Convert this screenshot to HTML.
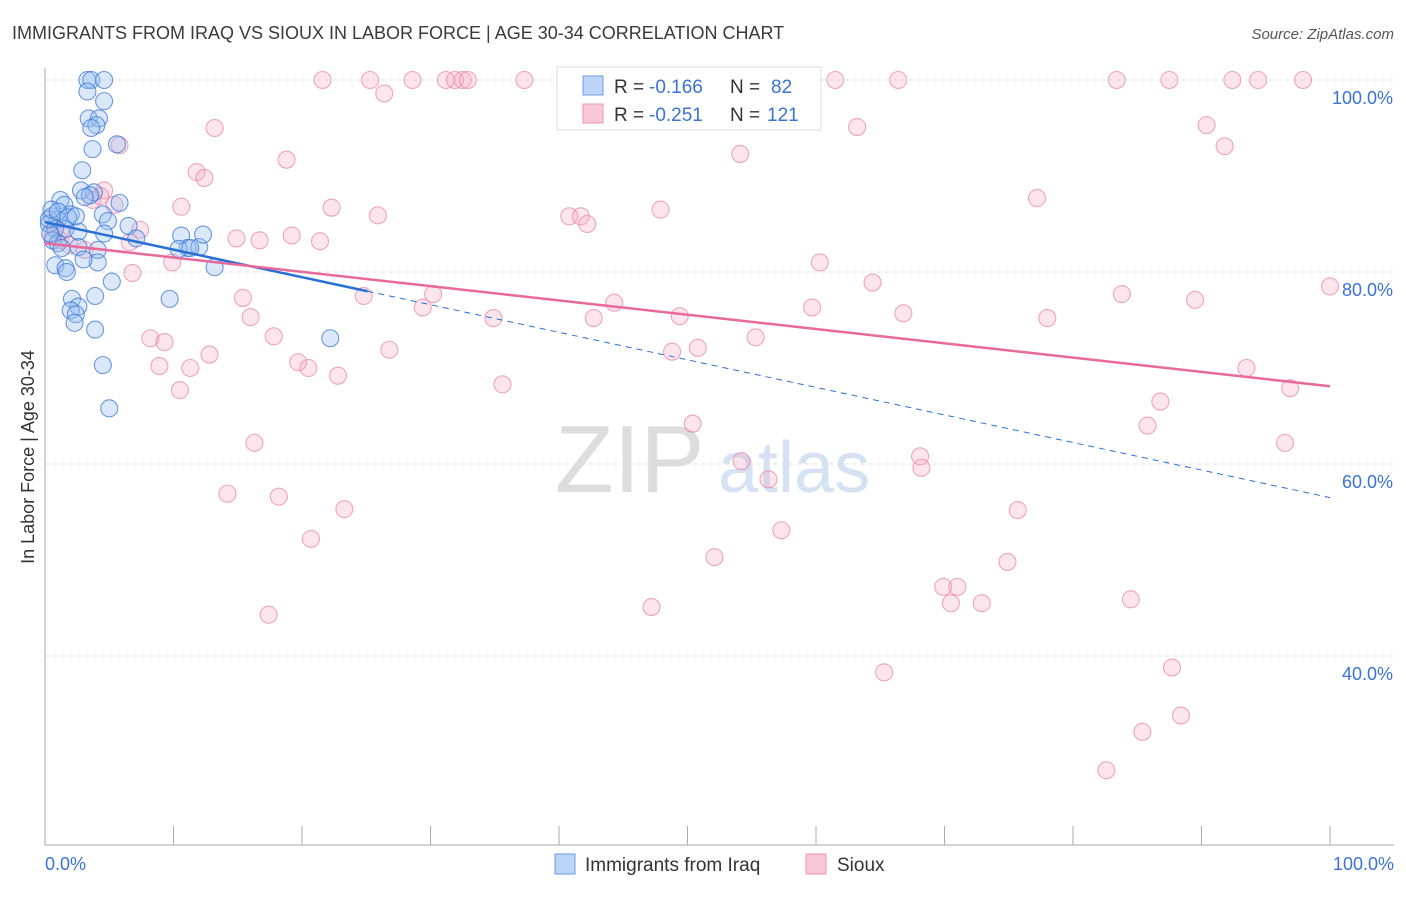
<!DOCTYPE html>
<html><head><meta charset="utf-8"><style>
body{margin:0;background:#fff;font-family:"Liberation Sans",sans-serif;}
svg text{font-family:"Liberation Sans",sans-serif;}
</style></head><body>
<svg id="chart" width="1406" height="892" xmlns="http://www.w3.org/2000/svg">
<text x="12" y="39" font-size="18" fill="#3a3a3a">IMMIGRANTS FROM IRAQ VS SIOUX IN LABOR FORCE | AGE 30-34 CORRELATION CHART</text>
<text x="1394" y="39" font-size="15" fill="#555" text-anchor="end" font-style="italic">Source: ZipAtlas.com</text>
<g><text x="555" y="492" font-size="96" fill="#ddd" font-family="Liberation Serif">ZIP</text><text x="718" y="492" font-size="72" fill="#d4e2f4">atlas</text></g>
<text transform="translate(34,457) rotate(-90)" font-size="18" fill="#333" text-anchor="middle">In Labor Force | Age 30-34</text>
<g id="grid"></g><g id="axes"></g><g id="marks"></g>
<g>
<rect x="557" y="67" width="264" height="63" fill="#fff" stroke="#ddd"/>
<rect x="583" y="76" width="20" height="19" fill="#bcd4f5" stroke="#6a9de6"/>
<rect x="583" y="104" width="20" height="19" fill="#f9c8d8" stroke="#ee95b4"/>
<text x="614" y="93" font-size="19" fill="#333">R =</text><text x="649" y="93" font-size="19" fill="#3a72d8">-0.166</text>
<text x="730" y="93" font-size="19" fill="#333">N =</text><text x="771" y="93" font-size="19" fill="#3a72d8">82</text>
<text x="614" y="121" font-size="19" fill="#333">R =</text><text x="649" y="121" font-size="19" fill="#3a72d8">-0.251</text>
<text x="730" y="121" font-size="19" fill="#333">N =</text><text x="767" y="121" font-size="19" fill="#3a72d8">121</text>
</g>
<g>
<rect x="555" y="854" width="20" height="20" fill="#bcd4f5" stroke="#6a9de6"/>
<text x="585" y="871" font-size="19" fill="#333">Immigrants from Iraq</text>
<rect x="806" y="854" width="20" height="20" fill="#f9c8d8" stroke="#ee95b4"/>
<text x="837" y="871" font-size="19" fill="#333">Sioux</text>
</g>
</svg>
<script>
const yTicks=[40,60,80,100];
const yTickLabels=["40.0%","60.0%","80.0%","100.0%"];
const xTickLabels=["0.0%","100.0%"];
const blueX=[3.3,3.6,4.6,3.3,4.6,3.4,4.2,4.0,3.6,5.6,3.7,2.9,2.8,3.8,3.5,3.1,5.8,1.2,1.5,2.0,4.5,4.9,1,0.5,0.3,0.8,1.6,2.6,4.6,6.5,0.6,1.0,2.6,4.1,0.4,0.3,1.3,7.1,10.6,11.1,12.0,12.3,10.4,11.3,0.8,1.6,1.7,4.1,13.2,5.2,3.9,9.7,2.1,2.6,2.0,2.4,2.3,3.9,22.2,4.5,5.0,3.0,0.5,1.0,1.8,2.4];
const blueY=[100,100,100,98.8,97.8,96,96,95.3,95,93.3,92.8,90.6,88.5,88.3,88,87.8,87.2,87.5,87,86,86.0,85.3,85.5,85.8,85,84.5,84.5,84.2,84,84.8,83.3,83,82.6,82.3,84,85.5,82.5,83.5,83.8,82.5,82.6,83.9,82.4,82.5,80.7,80.4,80.0,81.0,80.5,79.0,77.5,77.2,77.2,76.4,76.0,75.6,74.7,74.0,73.1,70.3,65.8,81.3,86.5,86.3,85.7,85.8];
const pinkX=[21.6,25.3,28.6,31.2,31.9,32.5,32.9,37.3,46.5,55.6,61.5,66.4,83.4,87.5,92.4,94.4,97.9,26.4,13.2,63.2,90.4,5.8,91.8,54.1,18.8,11.8,12.4,77.2,4.6,10.6,22.3,25.9,40.8,41.7,42.2,47.9,7.4,14.9,16.7,19.2,21.4,0.6,1.2,6.6,9.9,60.3,6.8,64.4,83.8,89.5,15.4,24.8,30.2,100,29.4,44.3,42.7,49.4,59.7,66.8,78.0,34.9,16.0,17.8,8.2,9.3,55.3,50.8,48.8,26.8,12.8,19.7,20.5,8.9,11.3,22.8,35.6,10.5,93.5,96.9,86.8,85.8,50.4,96.5,16.3,54.2,68.1,68.2,56.3,14.2,18.2,23.3,75.7,20.7,57.3,52.1,74.9,69.9,71.0,70.5,72.9,84.5,47.2,17.4,65.3,87.7,88.4,85.4,82.6,0.8,1.2,3.7,4.3,1.9,3.1,5.4];
const pinkY=[100,100,100,100,100,100,100,100,100,100,100,100,100,100,100,100,100,98.6,95.0,95.1,95.3,93.2,93.1,92.3,91.7,90.4,89.8,87.7,88.5,86.8,86.7,85.9,85.8,85.8,85.0,86.5,84.4,83.5,83.3,83.8,83.2,83.8,83.3,83.1,81.0,81.0,79.9,78.9,77.7,77.1,77.3,77.5,77.7,78.5,76.3,76.8,75.2,75.4,76.3,75.7,75.2,75.2,75.3,73.3,73.1,72.7,73.2,72.1,71.7,71.9,71.4,70.6,70.0,70.2,70.0,69.2,68.3,67.7,70.0,67.9,66.5,64.0,64.2,62.2,62.2,60.3,60.8,59.6,58.4,56.9,56.6,55.3,55.2,52.2,53.1,50.3,49.8,47.2,47.2,45.5,45.5,45.9,45.1,44.3,38.3,38.8,33.8,32.1,28.1,84.9,84.2,87.5,87.9,82.8,82.3,87.0];
const blueTrend=[85.2,56.5]; const blueSolidEnd=25.1;
const pinkTrend=[83.0,68.1];
const NS="http://www.w3.org/2000/svg";
const X=v=>45+v*12.85, Y=v=>80+(100-v)*9.6;
function mk(p,t,a){const e=document.createElementNS(NS,t);for(const k in a)e.setAttribute(k,a[k]);document.getElementById(p).appendChild(e);return e;}
yTicks.forEach((t,i)=>{
 const g=mk('grid','line',{x1:45,x2:1394,y1:Y(t),y2:Y(t),stroke:'#ddd','stroke-dasharray':'4,4'});
 
 
 const l=mk('axes','text',{x:1393,y:Y(t)+24,'font-size':18,fill:'#3a72d8','text-anchor':'end'});
 l.textContent=yTickLabels[i];
 
 
});
const ax=mk('axes','line',{x1:45,x2:45,y1:68,y2:845,stroke:'#aaa'});


const bx=mk('axes','line',{x1:45,x2:1394,y1:845,y2:845,stroke:'#aaa'});


for(let i=0;i<=10;i++){const t=mk('axes','line',{x1:X(i*10),x2:X(i*10),y1:826,y2:845,stroke:'#aaa'});
 
 }
[[0,'start',45],[100,'end',1394]].forEach((d,i)=>{const l=mk('axes','text',{x:d[2],y:870,'font-size':18,fill:'#3a72d8','text-anchor':d[1]});
 l.textContent=xTickLabels[i];
 
 });
pinkX.forEach((x,i)=>{const c=mk('marks','circle',{cx:X(x),cy:Y(pinkY[i]),r:8.5,fill:'rgba(246,170,196,0.3)',stroke:'rgba(232,130,165,0.7)','stroke-width':1.1});
 
 });
blueX.forEach((x,i)=>{const c=mk('marks','circle',{cx:X(x),cy:Y(blueY[i]),r:8.5,fill:'rgba(150,190,240,0.35)',stroke:'rgba(60,120,215,0.75)','stroke-width':1.1});
 
 });
const by=x=>blueTrend[0]+(blueTrend[1]-blueTrend[0])*x/100;
const l1=mk('marks','line',{x1:X(0),y1:Y(by(0)),x2:X(blueSolidEnd),y2:Y(by(blueSolidEnd)),stroke:'#2a6fd6','stroke-width':2.5});


const l2=mk('marks','line',{x1:X(blueSolidEnd),y1:Y(by(blueSolidEnd)),x2:X(100),y2:Y(by(100)),stroke:'#2a6fd6','stroke-width':1,'stroke-dasharray':'6,5'});


const l3=mk('marks','line',{x1:X(0),y1:Y(pinkTrend[0]),x2:X(100),y2:Y(pinkTrend[1]),stroke:'#e8699a','stroke-width':2.5});


</script>
</body></html>
